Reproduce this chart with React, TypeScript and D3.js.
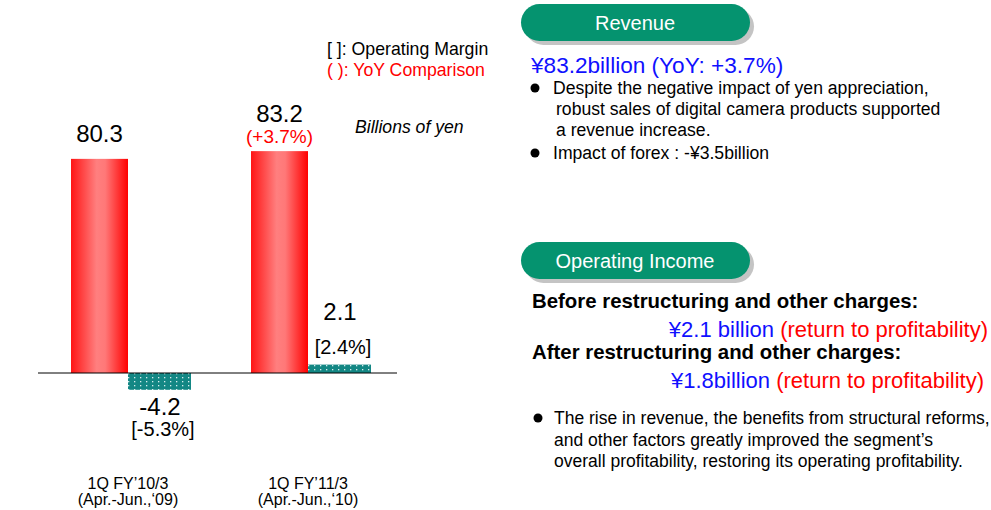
import React from "react";
import * as d3 from "d3";

const categories = ["1Q FY’10/3", "1Q FY’11/3"];
const periods = ["(Apr.-Jun.,‘09)", "(Apr.-Jun.,‘10)"];
const revenue = [80.3, 83.2];
const revenueYoY = ["", "(+3.7%)"];
const opIncome = [-4.2, 2.1];
const opMargin = ["[-5.3%]", "[2.4%]"];

const revenueLines = [
    "Despite the negative impact of yen appreciation,",
    "robust sales of digital camera products supported",
    "a revenue increase.",
];
const incomeLines = [
    "The rise in revenue, the benefits from structural reforms,",
    "and other factors greatly improved the segment’s",
    "overall profitability, restoring its operating profitability.",
];

const FONT = "Arial, 'Liberation Sans', sans-serif";
const BLUE = "#1010ff";
const RED = "#ff0000";
const GREEN = "#05936f";

const Pill = ({y, h, label}: {y: number, h: number, label: string}) => (
    <g>
        <rect x={525} y={y + 4} width={229} height={h} rx={h / 2} fill="#c4c4c4"/>
        <rect x={521} y={y} width={229} height={h} rx={h / 2} fill={GREEN}/>
        <text x={635} y={y + h / 2 + 7} textAnchor="middle" fontSize={20} fill="#fff">{label}</text>
    </g>
)

const App = () => {
    const baseY = 373
    const x = d3.scaleBand().domain(categories).range([38, 398])
    // revenue on its own scale, operating income drawn on a larger one
    const yRev = d3.scaleLinear().domain([0, 90]).range([baseY, baseY - 240])
    const yOp = d3.scaleLinear().domain([-5, 5]).range([baseY + 20, baseY - 20])
    const center = (c: string) => (x(c) as number) + x.bandwidth() / 2

    return (
        <svg width={991} height={510} style={{position: "absolute", left: 0, top: 0}} fontFamily={FONT}>
            <defs>
                <linearGradient id="revGrad" x1="0" x2="1" y1="0" y2="0">
                    <stop offset="0%" stopColor="#ff1414"/>
                    <stop offset="45%" stopColor="#ff7f7f"/>
                    <stop offset="60%" stopColor="#ff7878"/>
                    <stop offset="100%" stopColor="#ff0000"/>
                </linearGradient>
                <pattern id="dots" width={6} height={4} patternUnits="userSpaceOnUse">
                    <rect width={6} height={4} fill="#138784"/>
                    <rect x={2} y={1} width={1.3} height={1.3} fill="#d8eeee"/>
                </pattern>
            </defs>

            {/* bars */}
            {categories.map((c, i) => {
                const cx = center(c)
                const top = yRev(revenue[i])
                const o0 = Math.min(yOp(0), yOp(opIncome[i]))
                const o1 = Math.max(yOp(0), yOp(opIncome[i]))
                return (
                    <g key={c}>
                        <rect x={cx - 57} y={top} width={57} height={yRev(0) - top} fill="url(#revGrad)"/>
                        <rect x={cx} y={o0} width={63} height={o1 - o0} fill="url(#dots)"/>
                    </g>
                )
            })}
            <line x1={38} x2={397} y1={baseY} y2={baseY} stroke="#000" strokeWidth={1}/>

            {/* revenue labels */}
            {categories.map((c, i) => {
                const cx = center(c) - 28.5
                const top = yRev(revenue[i])
                const hasYoY = revenueYoY[i] !== ""
                return (
                    <g key={"rl" + c}>
                        <text x={cx} y={top - (hasYoY ? 29 : 17)} textAnchor="middle" fontSize={24}>
                            {revenue[i].toFixed(1)}
                        </text>
                        {hasYoY &&
                            <text x={cx} y={top - 8} textAnchor="middle" fontSize={19} fill={RED}>{revenueYoY[i]}</text>}
                    </g>
                )
            })}

            {/* operating income labels */}
            {categories.map((c, i) => {
                const cx = center(c) + 32
                const v = opIncome[i]
                if (v < 0) {
                    const bottom = yOp(v)
                    return (
                        <g key={"ol" + c}>
                            <text x={cx} y={bottom + 25} textAnchor="middle" fontSize={24}>{v.toFixed(1)}</text>
                            <text x={cx + 3} y={bottom + 46} textAnchor="middle" fontSize={20}>{opMargin[i]}</text>
                        </g>
                    )
                }
                const top = yOp(v)
                return (
                    <g key={"ol" + c}>
                        <text x={cx} y={top - 45} textAnchor="middle" fontSize={24}>{v.toFixed(1)}</text>
                        <text x={cx + 3} y={top - 11} textAnchor="middle" fontSize={20}>{opMargin[i]}</text>
                    </g>
                )
            })}

            {/* category labels */}
            {categories.map((c, i) => (
                <g key={"cl" + c}>
                    <text x={center(c)} y={489} textAnchor="middle" fontSize={16}>{c}</text>
                    <text x={center(c)} y={505} textAnchor="middle" fontSize={16}>{periods[i]}</text>
                </g>
            ))}

            {/* legend */}
            <text x={327} y={55} fontSize={17.7}>[ ]: Operating Margin</text>
            <text x={327} y={76} fontSize={17.7} fill={RED}>( ): YoY Comparison</text>
            <text x={355} y={133} fontSize={17.6} fontStyle="italic">Billions of yen</text>

            {/* right panel: revenue */}
            <Pill y={4} h={37} label="Revenue"/>
            <text x={531} y={73} fontSize={22.6} fill={BLUE}>¥83.2billion (YoY: +3.7%)</text>
            <circle cx={535} cy={88} r={4.5} fill="#000"/>
            {revenueLines.map((t, i) => (
                <text key={t} x={i === 0 ? 553 : 556} y={94 + i * 21} fontSize={17.6}>{t}</text>
            ))}
            <circle cx={535} cy={153} r={4.5} fill="#000"/>
            <text x={553} y={159} fontSize={17.6}>Impact of forex : -¥3.5billion</text>

            {/* right panel: operating income */}
            <Pill y={242} h={37} label="Operating Income"/>
            <text x={532} y={308} fontSize={20.4} fontWeight="bold">Before restructuring and other charges:</text>
            <text x={988} y={337} fontSize={22} textAnchor="end">
                <tspan fill={BLUE}>¥2.1 billion </tspan><tspan fill={RED}>(return to profitability)</tspan>
            </text>
            <text x={532} y={359} fontSize={20.4} fontWeight="bold">After restructuring and other charges:</text>
            <text x={984} y={388} fontSize={22} textAnchor="end">
                <tspan fill={BLUE}>¥1.8billion </tspan><tspan fill={RED}>(return to profitability)</tspan>
            </text>
            <circle cx={538} cy={418} r={4.5} fill="#000"/>
            {incomeLines.map((t, i) => (
                <text key={t} x={554} y={424 + i * 21.5} fontSize={17.5}>{t}</text>
            ))}
        </svg>
    );
};

export default App;
